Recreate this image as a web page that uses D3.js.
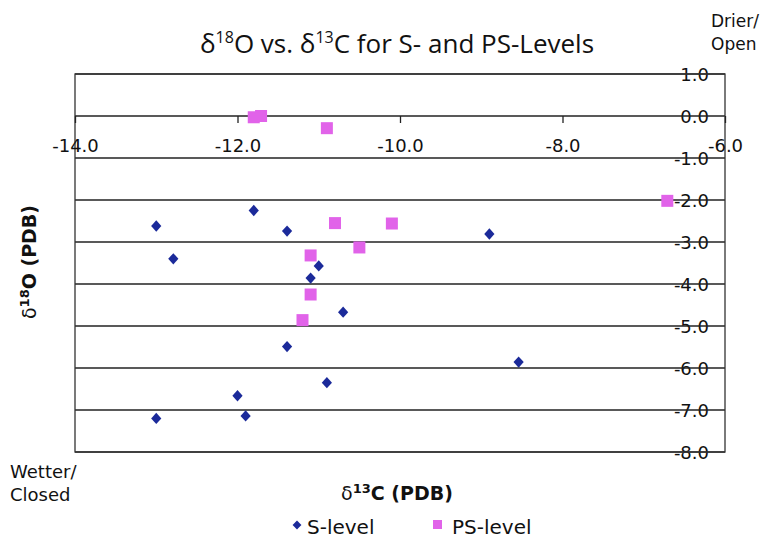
<!DOCTYPE html>
<html>
<head>
<meta charset="utf-8">
<script src="https://cdn.jsdelivr.net/npm/d3@7"></script>
<style>
  body { margin: 0; background: #fff; }
  svg text { fill: #111; }
</style>
</head>
<body>
<div id="chart-area"></div>
<script>
// d13C (x) and d18O (y) values
var sLevelC  = [-13.0, -11.80, -11.39, -12.79, -11.00, -11.10, -10.70, -8.90, -11.39, -8.54, -10.90, -12.00, -13.0, -11.90];
var sLevelO  = [-2.62, -2.25, -2.74, -3.40, -3.57, -3.86, -4.67, -2.81, -5.49, -5.86, -6.35, -6.66, -7.20, -7.14];
var psLevelC = [-11.80, -11.71, -10.90, -6.71, -10.80, -10.10, -10.50, -11.10, -11.10, -11.20];
var psLevelO = [-0.03, 0.0, -0.29, -2.02, -2.55, -2.56, -3.13, -3.32, -4.25, -4.86];
var xTicks = [-14, -12, -10, -8, -6];
var yTicks = [1, 0, -1, -2, -3, -4, -5, -6, -7, -8];

var sLevel = sLevelC.map(function(c, i){ return {c: c, o: sLevelO[i]}; });
var psLevel = psLevelC.map(function(c, i){ return {c: c, o: psLevelO[i]}; });

var width = 765, height = 538;
var margin = {left: 75, right: 40, top: 74, bottom: 86};
var w = width - margin.left - margin.right;
var h = height - margin.top - margin.bottom;
// plain hyphen, not the unicode minus d3 uses
var fmt = function(d){ return d.toFixed(1); };
var tickFont = "'DejaVu Sans', Verdana, sans-serif";
var titleFont = "'Open Sans', 'DejaVu Sans', sans-serif";

var svg = d3.select("#chart-area")
    .append("svg")
    .attr("width", width)
    .attr("height", height);

var g = svg.append("g")
    .attr("transform", "translate(" + margin.left + "," + margin.top + ")");

var x = d3.scaleLinear().domain([-14, -6]).range([0, w]);
var y = d3.scaleLinear().domain([-8, 1]).range([h, 0]);

// y axis labels on the right, inside the border
var yAxisCall = d3.axisLeft(y)
    .tickValues(yTicks)
    .tickSize(0)
    .tickFormat(fmt);
var yAxis = g.append("g")
    .attr("class", "yaxis")
    .attr("transform", "translate(" + (w - 16) + ",0)")
    .call(yAxisCall);
yAxis.select(".domain").remove();
yAxis.selectAll("text")
    .attr("x", 0)
    .attr("dy", "0.36em")
    .attr("font-size", "18px")
    .attr("font-family", tickFont)
    .attr("fill", "#111");

// horizontal gridlines, drawn over the labels like in the original
g.selectAll(".grid")
    .data(yTicks)
    .enter()
    .append("line")
    .attr("x1", 0)
    .attr("x2", w)
    .attr("y1", function(d){ return y(d); })
    .attr("y2", function(d){ return y(d); })
    .attr("stroke", "#222")
    .attr("stroke-width", 1.3);

// plot border
g.append("rect")
    .attr("x", 0)
    .attr("y", 0)
    .attr("width", w)
    .attr("height", h)
    .attr("fill", "none")
    .attr("stroke", "#333")
    .attr("stroke-width", 1.3);

// x axis sits on y = 0, labels hang below it
var xAxisCall = d3.axisBottom(x)
    .tickValues(xTicks)
    .tickSize(7)
    .tickFormat(fmt);
var xAxis = g.append("g")
    .attr("class", "xaxis")
    .attr("transform", "translate(0," + y(0) + ")")
    .call(xAxisCall);
xAxis.select(".domain").remove();
xAxis.selectAll("line").attr("stroke", "#222").attr("stroke-width", 1.3);
xAxis.selectAll("text")
    .attr("y", 23)
    .attr("font-size", "18px")
    .attr("font-family", tickFont)
    .attr("fill", "#111");

// S-level diamonds
var diamond = d3.symbol().type(d3.symbolDiamond2).size(82);
g.selectAll(".s-level")
    .data(sLevel)
    .enter()
    .append("path")
    .attr("class", "s-level")
    .attr("d", diamond)
    .attr("transform", function(d){ return "translate(" + x(d.c) + "," + y(d.o) + ") scale(0.9,1)"; })
    .attr("fill", "#1b2a9a");

// PS-level squares
g.selectAll(".ps-level")
    .data(psLevel)
    .enter()
    .append("rect")
    .attr("class", "ps-level")
    .attr("x", function(d){ return x(d.c) - 6; })
    .attr("y", function(d){ return y(d.o) - 6; })
    .attr("width", 12)
    .attr("height", 12)
    .attr("fill", "#e163e9");

// title
var title = svg.append("text")
    .attr("x", 397)
    .attr("y", 53)
    .attr("text-anchor", "middle")
    .attr("font-size", "26px")
    .attr("font-family", titleFont);
title.append("tspan").text("δ");
title.append("tspan").attr("dy", -10).attr("font-size", "16px").text("18");
title.append("tspan").attr("dy", 10).text("O vs. δ");
title.append("tspan").attr("dy", -10).attr("font-size", "16px").text("13");
title.append("tspan").attr("dy", 10).text("C for S- and PS-Levels");

// y axis title
var yTitle = svg.append("text")
    .attr("transform", "translate(36,262) rotate(-90)")
    .attr("text-anchor", "middle")
    .attr("font-size", "19px")
    .attr("font-weight", "bold")
    .attr("font-family", tickFont);
yTitle.append("tspan").attr("font-weight", "normal").text("δ");
yTitle.append("tspan").attr("dy", -7).attr("font-size", "13px").text("18");
yTitle.append("tspan").attr("dy", 7).text("O (PDB)");

// x axis title
var xTitle = svg.append("text")
    .attr("x", 397)
    .attr("y", 500)
    .attr("text-anchor", "middle")
    .attr("font-size", "19px")
    .attr("font-weight", "bold")
    .attr("font-family", tickFont);
xTitle.append("tspan").attr("font-weight", "normal").text("δ");
xTitle.append("tspan").attr("dy", -7).attr("font-size", "13px").text("13");
xTitle.append("tspan").attr("dy", 7).text("C (PDB)");

// corner notes
svg.append("text").attr("x", 711).attr("y", 27).attr("font-size", "17px").attr("font-family", tickFont).text("Drier/");
svg.append("text").attr("x", 711).attr("y", 50).attr("font-size", "17px").attr("font-family", tickFont).text("Open");
svg.append("text").attr("x", 10).attr("y", 478).attr("font-size", "18px").attr("font-family", tickFont).text("Wetter/");
svg.append("text").attr("x", 10).attr("y", 501).attr("font-size", "18px").attr("font-family", tickFont).text("Closed");

// legend
var legend = svg.append("g").attr("transform", "translate(0,527)");
legend.append("path")
    .attr("d", d3.symbol().type(d3.symbolDiamond2).size(50))
    .attr("transform", "translate(297,-2)")
    .attr("fill", "#1b2a9a");
legend.append("text").attr("x", 307).attr("y", 7).attr("font-size", "20px").attr("font-family", tickFont).text("S-level");
legend.append("rect").attr("x", 433).attr("y", -7).attr("width", 9).attr("height", 9).attr("fill", "#e163e9");
legend.append("text").attr("x", 452).attr("y", 7).attr("font-size", "20px").attr("font-family", tickFont).text("PS-level");
</script>
</body>
</html>
